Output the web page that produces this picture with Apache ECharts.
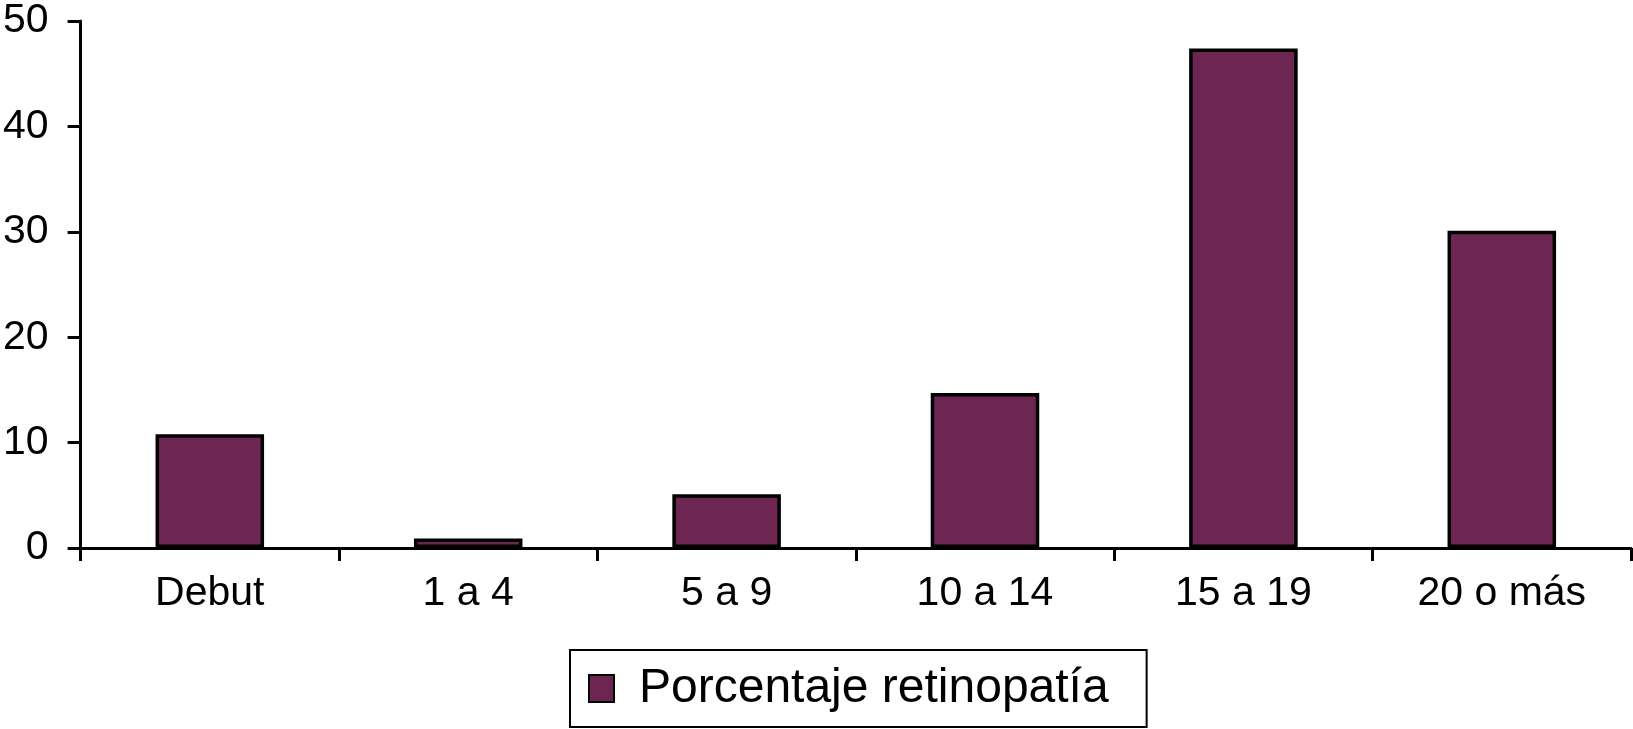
<!DOCTYPE html>
<html>
<head>
<meta charset="utf-8">
<script src="https://cdn.jsdelivr.net/npm/echarts@6/dist/echarts.min.js"></script>
<style>
html,body{margin:0;padding:0;background:#fff;}
#chart{width:1633px;height:729px;}
</style>
</head>
<body>
<div id="chart"></div>
<script>
const categories = ['Debut', '1 a 4', '5 a 9', '10 a 14', '15 a 19', '20 o más'];
const seriesName = 'Porcentaje retinopatía';
const values = [10.8, 0.9, 5.1, 14.7, 47.4, 30.1];
const yTicks = { min: 0, max: 50, interval: 10 };

const FONT = '"Liberation Sans", Arial, Helvetica, sans-serif';
const chart = echarts.init(document.getElementById('chart'), null, { renderer: 'canvas' });
chart.setOption({
  backgroundColor: '#ffffff',
  animation: false,
  grid: { left: 77, right: 2, top: 21, bottom: 181, containLabel: false },
  legend: {
    data: [seriesName],
    left: 570,
    top: 650,
    orient: 'horizontal',
    padding: [12, 38, 12, 18],
    borderColor: '#000',
    borderWidth: 2,
    itemWidth: 25,
    itemHeight: 27,
    icon: 'rect',
    itemStyle: { borderColor: '#000', borderWidth: 2 },
    textStyle: { fontFamily: FONT, fontSize: 48, color: '#000', lineHeight: 53, padding: [0, 0, 0, 20] }
  },
  xAxis: {
    type: 'category',
    data: categories,
    boundaryGap: true,
    axisLine: { show: true, lineStyle: { color: '#000', width: 3 } },
    axisTick: { show: true, inside: false, length: 13, alignWithLabel: false, lineStyle: { color: '#000', width: 3 } },
    axisLabel: { fontFamily: FONT, fontSize: 41, color: '#000', margin: 25, interval: 0 },
    splitLine: { show: false }
  },
  yAxis: {
    type: 'value',
    min: yTicks.min,
    max: yTicks.max,
    interval: yTicks.interval,
    axisLine: { show: true, lineStyle: { color: '#000', width: 3 } },
    axisTick: { show: true, inside: false, length: 13, lineStyle: { color: '#000', width: 3 } },
    axisLabel: { fontFamily: FONT, fontSize: 41, color: '#000', margin: 32 },
    splitLine: { show: false }
  },
  series: [{
    name: seriesName,
    type: 'bar',
    data: values,
    barWidth: '42%',
    itemStyle: { color: '#6d2651', borderColor: '#000', borderWidth: 3.5 }
  }]
});
</script>
</body>
</html>
